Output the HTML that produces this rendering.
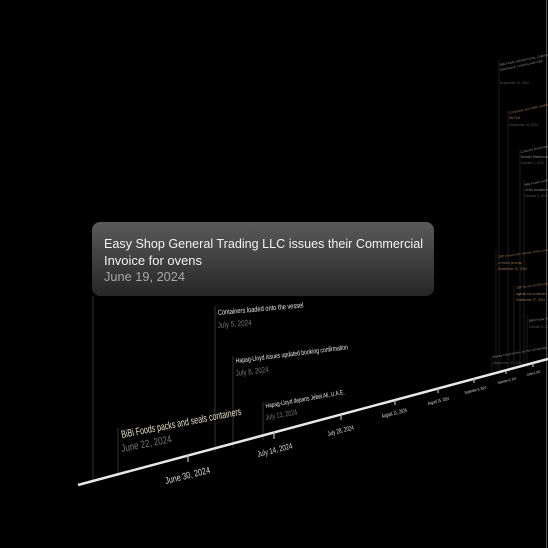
<!DOCTYPE html>
<html><head><meta charset="utf-8"><style>
html,body{margin:0;padding:0;background:#000;width:548px;height:548px;overflow:hidden}
svg{display:block}
text{font-family:"Liberation Sans",sans-serif}
</style></head><body>
<svg width="548" height="548" viewBox="0 0 548 548">
<defs><linearGradient id="g" x1="0" y1="0" x2="0" y2="1">
<stop offset="0" stop-color="#5a5a5a"/><stop offset="1" stop-color="#262626"/></linearGradient></defs>
<rect width="548" height="548" fill="#000"/>
<line x1="546.5" y1="0" x2="546.5" y2="548" stroke="#555" stroke-width="1"/>
<g stroke="#333" stroke-width="1">
<line x1="93" y1="296" x2="93" y2="480"/>
<line x1="118" y1="428" x2="118" y2="476"/>
<line x1="215" y1="306" x2="215" y2="452"/>
<line x1="233" y1="356" x2="233" y2="448"/>
<line x1="263" y1="402" x2="263" y2="440"/>
</g>
<g stroke="#222" stroke-width="0.8">
<line x1="499" y1="60" x2="499" y2="370"/>
<line x1="508" y1="110" x2="508" y2="368"/>
<line x1="520" y1="150" x2="520" y2="365"/>
<line x1="524" y1="180" x2="524" y2="364"/>
<line x1="496" y1="250" x2="496" y2="370"/>
<line x1="514" y1="285" x2="514" y2="366"/>
<line x1="527" y1="315" x2="527" y2="363"/>
<line x1="492" y1="355" x2="492" y2="372"/>
</g>
<line x1="78" y1="485" x2="548" y2="359" stroke="#e8e8e8" stroke-width="2.5"/>
<g stroke="#bbb" stroke-width="1.2">
<line x1="188" y1="455" x2="188" y2="462"/>
<line x1="274" y1="432" x2="274" y2="439"/>
<line x1="341" y1="414" x2="341" y2="420"/>
<line x1="395" y1="400" x2="395" y2="405"/>
<line x1="438" y1="388" x2="438" y2="393"/>
<line x1="474" y1="378" x2="474" y2="383"/>
<line x1="506" y1="370" x2="506" y2="374"/>
<line x1="533" y1="363" x2="533" y2="367"/>
</g>
<g fill="#ddd">
<text transform="translate(166,484) rotate(-14)" font-size="9.5" textLength="46" lengthAdjust="spacingAndGlyphs">June 30, 2024</text>
<text transform="translate(258,457) rotate(-14)" font-size="8" textLength="36" lengthAdjust="spacingAndGlyphs">July 14, 2024</text>
<text transform="translate(328,436) rotate(-14)" font-size="6.5" textLength="27" lengthAdjust="spacingAndGlyphs">July 28, 2024</text>
<text transform="translate(382,418) rotate(-14)" font-size="5.5" textLength="26" lengthAdjust="spacingAndGlyphs">August 11, 2024</text>
<text transform="translate(428,405) rotate(-14)" font-size="4.5" textLength="22" lengthAdjust="spacingAndGlyphs">August 25, 2024</text>
<text transform="translate(465,394) rotate(-14)" font-size="4" textLength="22" lengthAdjust="spacingAndGlyphs">September 8, 2024</text>
<text transform="translate(498,384) rotate(-14)" font-size="3.5" textLength="19" lengthAdjust="spacingAndGlyphs">September 22, 2024</text>
<text transform="translate(527,376) rotate(-14)" font-size="3.5" textLength="14" lengthAdjust="spacingAndGlyphs">October 6, 2024</text>
</g>
<text transform="translate(122,438) rotate(-11)" font-size="10.5" fill="#e6e0c8" textLength="122" lengthAdjust="spacingAndGlyphs">BiBi Foods packs and seals containers</text>
<text transform="translate(122,452) rotate(-11)" font-size="10.5" fill="#777" textLength="51" lengthAdjust="spacingAndGlyphs">June 22, 2024</text>
<text transform="translate(218,315) rotate(-5)" font-size="7.5" fill="#e6e6e6" textLength="86" lengthAdjust="spacingAndGlyphs">Containers loaded onto the vessel</text>
<text transform="translate(218,328) rotate(-5)" font-size="8" fill="#777" textLength="34" lengthAdjust="spacingAndGlyphs">July 5, 2024</text>
<text transform="translate(236,363) rotate(-7)" font-size="7" fill="#e6e6e6" textLength="113" lengthAdjust="spacingAndGlyphs">Hapag-Lloyd issues updated booking confirmation</text>
<text transform="translate(236,376) rotate(-7)" font-size="8" fill="#777" textLength="33" lengthAdjust="spacingAndGlyphs">July 8, 2024</text>
<text transform="translate(266,408) rotate(-10)" font-size="6.5" fill="#e6e6e6" textLength="80" lengthAdjust="spacingAndGlyphs">Hapag-Lloyd departs Jebel Ali, U.A.E.</text>
<text transform="translate(266,420) rotate(-10)" font-size="7.5" fill="#777" textLength="32" lengthAdjust="spacingAndGlyphs">July 13, 2024</text>
<g font-size="3.2" fill="#888">
<text transform="translate(500,66) rotate(-12)">BiBi Foods submits forms, Collector</text>
<text transform="translate(500,71) rotate(-12)">Warehouse, confirms with CBP</text>
<text transform="translate(500,84)" fill="#555">September 10, 2024</text>
<text transform="translate(509,114) rotate(-12)" fill="#9a7050">Containers are made available at</text>
<text transform="translate(509,119)" fill="#9a7050">the Port</text>
<text transform="translate(509,126)" fill="#555">September 18, 2024</text>
<text transform="translate(521,153) rotate(-12)">Customs Examination</text>
<text transform="translate(521,158)">Bonded Warehouse</text>
<text transform="translate(521,164)" fill="#555">October 1, 2024</text>
<text transform="translate(525,186) rotate(-12)">BiBi Foods works</text>
<text transform="translate(525,191)">of the containers</text>
<text transform="translate(525,197)" fill="#555">October 3, 2024</text>
<text transform="translate(498,258) rotate(-8)" fill="#9a7050">CBP refuses the release of the containers and initiates</text>
<text transform="translate(498,264)" fill="#9a7050">a review process</text>
<text transform="translate(498,270)" fill="#9a7050">September 15, 2024</text>
<text transform="translate(516,289) rotate(-8)" fill="#9a7050">CBP issues an Emergency Action Notice</text>
<text transform="translate(516,295)" fill="#9a7050">against the containers</text>
<text transform="translate(516,301)" fill="#9a7050">September 27, 2024</text>
<text transform="translate(529,322) rotate(-8)">BiBi Foods sends a letter</text>
<text transform="translate(529,328)" fill="#555">October 3, 2024</text>
<text transform="translate(493,358) rotate(-10)">Hapag-Lloyd arrives at Port of Houston, TX</text>
<text transform="translate(493,364)" fill="#555">September 10, 2024</text>
</g>
<rect x="92" y="222" width="342" height="74" rx="8" fill="url(#g)"/>
<text x="104" y="248" font-size="12.5" fill="#f2f2f2" textLength="319" lengthAdjust="spacingAndGlyphs">Easy Shop General Trading LLC issues their Commercial</text>
<text x="104" y="265" font-size="12.5" fill="#f2f2f2" textLength="98" lengthAdjust="spacingAndGlyphs">Invoice for ovens</text>
<text x="104" y="281" font-size="12.5" fill="#a8a8a8" textLength="81" lengthAdjust="spacingAndGlyphs">June 19, 2024</text>
</svg>
</body></html>
